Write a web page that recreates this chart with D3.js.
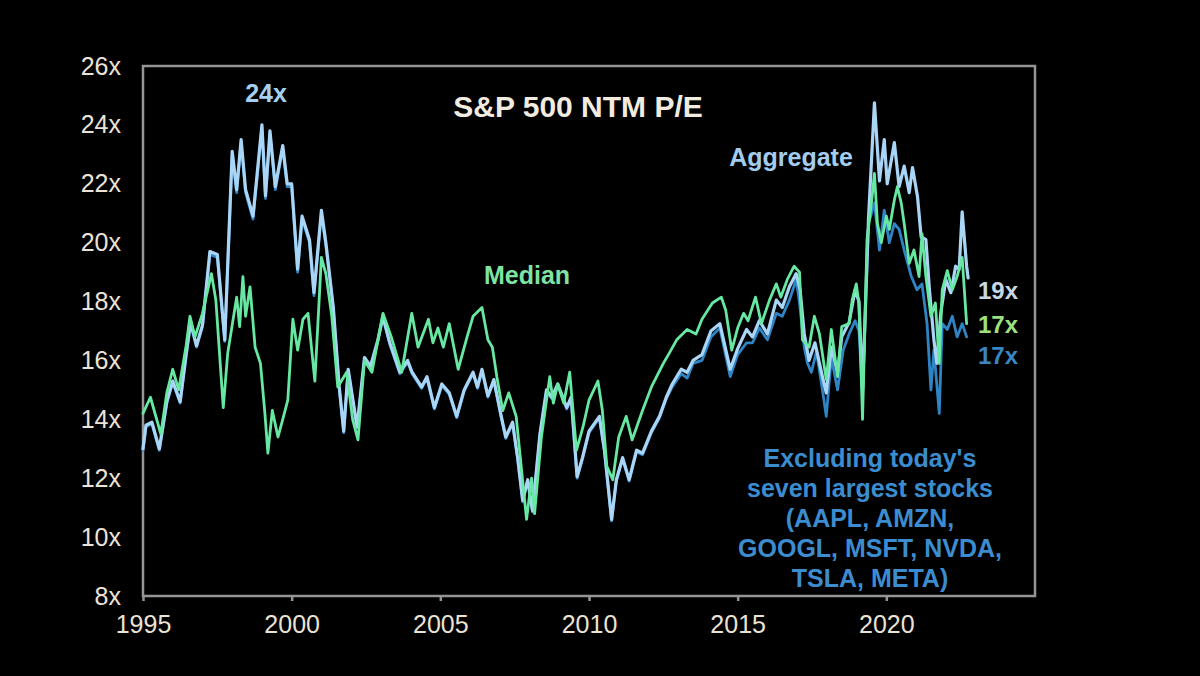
<!DOCTYPE html>
<html>
<head>
<meta charset="utf-8">
<script src="https://cdn.jsdelivr.net/npm/d3@7"></script>
<style>
  html, body { margin: 0; padding: 0; background: #000; }
  svg { display: block; font-family: "Liberation Sans", Arial, sans-serif; }
  .tick text { fill: #ebe3d6; }
</style>
</head>
<body>
<svg id="chart" width="1200" height="676"></svg>
<script>
// tick values
var xTicks = [1995, 2000, 2005, 2010, 2015, 2020];
var yTicks = [8, 10, 12, 14, 16, 18, 20, 22, 24, 26];

// S&P 500 aggregate NTM P/E  [year, value]
var aggregate = [
  [1995.0,13.0],[1995.1,13.8],[1995.3,13.9],[1995.55,13.0],[1995.8,14.6],[1996.0,15.3],[1996.25,14.6],
  [1996.45,16.2],[1996.6,17.3],[1996.8,16.5],[1997.0,17.2],[1997.25,19.7],[1997.5,19.6],[1997.75,16.7],
  [1998.0,23.1],[1998.15,21.8],[1998.3,23.5],[1998.45,21.8],[1998.7,20.9],[1999.0,24.0],[1999.12,21.6],
  [1999.27,23.8],[1999.45,21.9],[1999.7,23.3],[1999.85,22.0],[2000.0,22.0],[2000.2,19.1],[2000.35,20.9],
  [2000.6,20.1],[2000.75,18.3],[2001.0,21.1],[2001.15,20.0],[2001.4,17.8],[2001.6,15.1],[2001.75,13.6],
  [2001.9,15.7],[2002.2,13.75],[2002.45,16.1],[2002.65,15.8],[2002.9,16.7],[2003.07,17.5],[2003.3,16.6],
  [2003.64,15.6],[2003.9,16.0],[2004.05,15.6],[2004.37,15.1],[2004.55,15.45],[2004.8,14.4],[2005.05,15.2],
  [2005.3,14.9],[2005.55,14.1],[2005.8,15.0],[2006.1,15.6],[2006.25,15.1],[2006.4,15.7],[2006.6,14.8],
  [2006.8,15.35],[2007.05,14.1],[2007.2,13.4],[2007.43,13.9],[2007.6,12.7],[2007.77,11.25],[2007.94,11.95],
  [2008.1,10.9],[2008.35,13.5],[2008.57,15.0],[2008.75,14.75],[2008.95,15.2],[2009.25,14.4],[2009.4,14.75],
  [2009.6,12.05],[2009.78,12.7],[2010.0,13.6],[2010.35,14.1],[2010.52,12.95],[2010.76,10.6],[2010.92,11.95],
  [2011.13,12.7],[2011.35,11.95],[2011.6,12.95],[2011.8,12.85],[2012.1,13.6],[2012.37,14.1],[2012.6,14.75],
  [2012.8,15.2],[2013.1,15.7],[2013.3,15.6],[2013.5,16.0],[2013.8,16.2],[2014.1,17.0],[2014.4,17.25],
  [2014.75,15.7],[2015.0,16.4],[2015.3,17.05],[2015.5,16.8],[2015.73,17.35],[2016.0,16.9],[2016.3,18.05],
  [2016.5,17.8],[2016.74,18.5],[2016.97,18.95],[2017.1,18.4],[2017.24,16.9],[2017.4,16.0],[2017.6,16.6],
  [2017.85,15.45],[2017.98,14.9],[2018.15,16.45],[2018.36,15.6],[2018.5,16.8],[2018.75,17.3],[2018.95,18.4],
  [2019.08,18.0],[2019.2,15.0],[2019.4,20.8],[2019.6,24.75],[2019.77,22.1],[2019.93,23.5],[2020.03,22.0],
  [2020.27,23.4],[2020.43,21.9],[2020.6,22.6],[2020.77,21.7],[2020.88,22.55],[2021.05,21.55],[2021.17,20.2],
  [2021.33,20.1],[2021.45,18.4],[2021.6,16.7],[2021.7,15.9],[2021.83,17.6],[2022.0,18.75],[2022.17,18.3],
  [2022.33,19.2],[2022.45,19.1],[2022.55,21.05],[2022.7,19.2],[2022.75,18.8]
];

// S&P 500 median NTM P/E
var median = [
  [1995.0,14.2],[1995.25,14.75],[1995.6,13.5],[1995.8,14.9],[1996.0,15.7],[1996.2,15.0],[1996.45,16.5],
  [1996.58,17.5],[1996.75,16.8],[1997.0,17.6],[1997.3,18.95],[1997.45,18.05],[1997.7,14.4],[1997.85,16.25],
  [1998.15,18.15],[1998.25,17.15],[1998.36,18.85],[1998.45,17.5],[1998.6,18.5],[1998.77,16.45],[1998.95,15.9],
  [1999.1,14.2],[1999.2,12.85],[1999.35,14.3],[1999.54,13.4],[1999.7,14.0],[1999.87,14.65],[2000.04,17.4],
  [2000.2,16.35],[2000.38,17.4],[2000.55,17.6],[2000.78,15.3],[2001.0,19.5],[2001.15,18.95],[2001.35,17.5],
  [2001.55,15.1],[2001.85,15.6],[2002.05,14.0],[2002.23,13.3],[2002.45,16.0],[2002.7,15.6],[2003.07,17.6],
  [2003.35,16.8],[2003.7,15.6],[2004.04,17.6],[2004.25,16.45],[2004.6,17.4],[2004.75,16.6],[2004.92,17.1],
  [2005.1,16.45],[2005.3,17.25],[2005.6,15.7],[2005.9,16.8],[2006.1,17.5],[2006.4,17.8],[2006.6,16.7],
  [2006.75,16.45],[2006.9,15.45],[2007.1,14.3],[2007.3,14.9],[2007.55,14.1],[2007.77,11.9],[2007.9,10.6],
  [2008.07,12.0],[2008.17,10.8],[2008.4,13.4],[2008.68,15.45],[2008.8,14.55],[2008.95,15.2],[2009.15,14.55],
  [2009.35,15.6],[2009.58,12.95],[2009.8,13.75],[2010.0,14.65],[2010.3,15.3],[2010.45,14.3],[2010.6,12.4],
  [2010.8,11.95],[2011.0,13.4],[2011.25,14.1],[2011.45,13.3],[2011.8,14.3],[2012.1,15.1],[2012.5,15.9],
  [2012.7,16.25],[2012.95,16.7],[2013.3,17.05],[2013.6,16.9],[2013.8,17.4],[2014.15,17.95],[2014.45,18.15],
  [2014.6,17.7],[2014.8,16.35],[2015.0,17.1],[2015.2,17.6],[2015.35,17.35],[2015.6,18.15],[2015.8,17.25],
  [2016.07,18.05],[2016.3,18.6],[2016.45,18.15],[2016.67,18.75],[2016.9,19.2],[2017.08,19.0],[2017.18,16.7],
  [2017.4,16.45],[2017.58,17.5],[2017.75,16.9],[2017.98,15.35],[2018.15,17.05],[2018.36,15.45],[2018.5,17.15],
  [2018.75,17.25],[2018.85,18.05],[2018.99,18.6],[2019.08,17.9],[2019.2,14.0],[2019.35,20.1],[2019.5,21.35],
  [2019.6,22.35],[2019.7,20.65],[2019.83,20.0],[2020.0,20.9],[2020.1,20.45],[2020.27,21.45],[2020.37,21.9],
  [2020.5,21.35],[2020.6,20.65],[2020.77,19.3],[2020.93,19.75],[2021.1,18.85],[2021.2,20.3],[2021.33,18.85],
  [2021.5,17.5],[2021.65,17.95],[2021.78,15.9],[2021.88,18.4],[2022.05,19.05],[2022.22,18.4],[2022.38,18.85],
  [2022.55,19.5],[2022.7,17.25]
];

// aggregate excluding the seven largest stocks
var exTop7 = [
  [1995.0,12.95],[1995.1,13.75],[1995.3,13.85],[1995.55,12.95],[1995.8,14.55],[1996.0,15.25],[1996.25,14.55],
  [1996.45,16.15],[1996.6,17.25],[1996.8,16.45],[1997.0,17.15],[1997.25,19.6],[1997.5,19.5],[1997.75,16.65],
  [1998.0,23.0],[1998.15,21.7],[1998.3,23.4],[1998.45,21.7],[1998.7,20.8],[1999.0,23.9],[1999.12,21.5],
  [1999.27,23.7],[1999.45,21.8],[1999.7,23.2],[1999.85,21.9],[2000.0,21.9],[2000.2,19.0],[2000.35,20.8],
  [2000.6,20.0],[2000.75,18.2],[2001.0,21.0],[2001.15,19.9],[2001.4,17.75],[2001.6,15.05],[2001.75,13.55],
  [2001.9,15.65],[2002.2,13.7],[2002.45,16.05],[2002.65,15.75],[2002.9,16.65],[2003.07,17.45],[2003.3,16.55],
  [2003.64,15.55],[2003.9,15.95],[2004.05,15.55],[2004.37,15.05],[2004.55,15.4],[2004.8,14.35],[2005.05,15.15],
  [2005.3,14.85],[2005.55,14.05],[2005.8,14.95],[2006.1,15.55],[2006.25,15.05],[2006.4,15.65],[2006.6,14.75],
  [2006.8,15.3],[2007.05,14.05],[2007.2,13.35],[2007.43,13.85],[2007.6,12.65],[2007.77,11.2],[2007.94,11.9],
  [2008.1,10.85],[2008.35,13.45],[2008.57,14.95],[2008.75,14.7],[2008.95,15.15],[2009.25,14.35],[2009.4,14.7],
  [2009.6,12.0],[2009.78,12.65],[2010.0,13.55],[2010.35,14.05],[2010.52,12.9],[2010.76,10.55],[2010.92,11.9],
  [2011.13,12.65],[2011.35,11.9],[2011.6,12.9],[2011.8,12.8],[2012.1,13.55],[2012.37,14.05],[2012.6,14.7],
  [2012.8,15.1],[2013.1,15.55],[2013.3,15.4],[2013.5,15.9],[2013.8,16.0],[2014.1,16.8],[2014.4,17.1],
  [2014.75,15.45],[2015.0,16.2],[2015.3,16.6],[2015.5,16.6],[2015.73,17.1],[2016.0,16.7],[2016.3,17.6],
  [2016.5,17.5],[2016.74,18.05],[2016.97,18.75],[2017.08,17.95],[2017.24,16.45],[2017.35,15.9],[2017.48,15.6],
  [2017.65,16.3],[2017.85,15.0],[2017.98,14.1],[2018.15,16.1],[2018.36,15.0],[2018.55,16.35],[2018.75,16.9],
  [2018.95,17.35],[2019.08,17.0],[2019.2,14.8],[2019.4,20.65],[2019.6,21.35],[2019.77,19.75],[2019.93,21.1],
  [2020.1,20.0],[2020.27,20.65],[2020.43,20.45],[2020.6,19.75],[2020.84,18.85],[2021.03,18.4],[2021.2,18.6],
  [2021.37,17.25],[2021.5,15.0],[2021.6,16.35],[2021.78,14.2],[2021.88,17.25],[2022.05,17.05],[2022.22,17.5],
  [2022.38,16.8],[2022.55,17.25],[2022.7,16.8]
];

var svg = d3.select("#chart");

var x = d3.scaleLinear().domain([1995, 2025]).range([143, 1035]);
var y = d3.scaleLinear().domain([8, 26]).range([596, 66]);

// frame
svg.append("rect")
  .attr("x", x(1995)).attr("y", y(26))
  .attr("width", x(2025) - x(1995)).attr("height", y(8) - y(26))
  .attr("fill", "none")
  .attr("stroke", "#959595")
  .attr("stroke-width", 2.5);

var yAxis = svg.append("g")
  .attr("transform", "translate(" + x(1995) + ",0)")
  .call(d3.axisLeft(y).tickValues(yTicks).tickSize(0).tickPadding(22)
    .tickFormat(function(d) { return d + "x"; }));
yAxis.select(".domain").remove();
yAxis.selectAll("text").attr("font-size", 25).attr("font-family", null);

var xAxis = svg.append("g")
  .attr("transform", "translate(0," + y(8) + ")")
  .call(d3.axisBottom(x).tickValues(xTicks).tickSize(5).tickSizeOuter(0).tickPadding(14)
    .tickFormat(d3.format("d")));
xAxis.select(".domain").remove();
xAxis.selectAll("line").attr("stroke", "#959595").attr("stroke-width", 2.5);
xAxis.selectAll("text").attr("font-size", 25).attr("font-family", null);

var line = d3.line()
  .x(function(d) { return x(d[0]); })
  .y(function(d) { return y(d[1]); });

var series = [
  {name: "ex7", data: exTop7, color: "#2f84c4", width: 2.8},
  {name: "aggregate", data: aggregate, color: "#a9d5f6", width: 3.2},
  {name: "median", data: median, color: "#66e8a2", width: 2.8}
];

svg.append("g").selectAll("path")
  .data(series)
  .enter().append("path")
    .attr("d", function(d) { return line(d.data); })
    .attr("fill", "none")
    .attr("stroke", function(d) { return d.color; })
    .attr("stroke-width", function(d) { return d.width; })
    .attr("stroke-linejoin", "round")
    .attr("stroke-linecap", "round");

// annotations
function label(txt, px, py, color, size, anchor) {
  svg.append("text")
    .attr("x", px).attr("y", py)
    .attr("fill", color)
    .attr("font-size", size)
    .attr("font-weight", "bold")
    .attr("text-anchor", anchor || "middle")
    .text(txt);
}

label("S&P 500 NTM P/E", 578, 117, "#f2ebe0", 30);
label("24x", 266, 102, "#a6d0f0", 25);
label("Aggregate", 791, 166, "#a3ccee", 25);
label("Median", 527, 284, "#7fe3a3", 25);

label("19x", 978, 299, "#c6d8e6", 24, "start");
label("17x", 978, 333, "#9fe07e", 24, "start");
label("17x", 978, 364, "#3a86c2", 24, "start");

var exLines = ["Excluding today's", "seven largest stocks", "(AAPL, AMZN,", "GOOGL, MSFT, NVDA,", "TSLA, META)"];
exLines.forEach(function(t, i) {
  label(t, 870, 467 + i * 30, "#3b8dd0", 25);
});
</script>
</body>
</html>
